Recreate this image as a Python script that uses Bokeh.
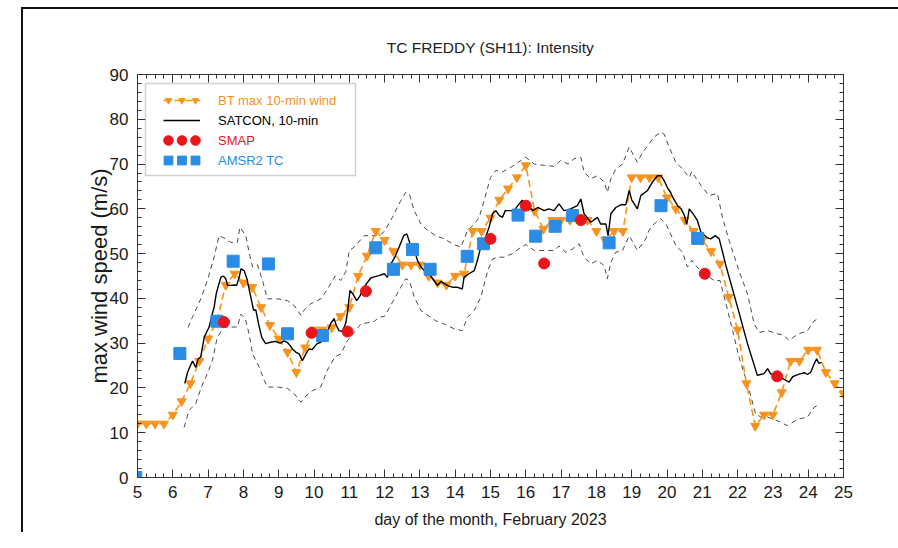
from bokeh.plotting import figure
from bokeh.models import (LinearAxis, SingleIntervalTicker, Range1d, Legend, LegendItem,
                          BoxAnnotation, ColumnDataSource)
from bokeh.embed import file_html
from bokeh.resources import INLINE

# ---------------- data ----------------
bt_day = [5.00, 5.25, 5.50, 5.75, 6.00, 6.25, 6.50, 6.75, 7.00, 7.25, 7.50, 7.75,
          8.00, 8.25, 8.50, 8.75, 9.00, 9.25, 9.50, 9.75, 10.00, 10.25, 10.50, 10.75,
          11.00, 11.25, 11.50, 11.75, 12.00, 12.25, 12.50, 12.75, 13.00, 13.25, 13.50, 13.75,
          14.00, 14.25, 14.50, 14.75, 15.00, 15.25, 15.50, 15.75, 16.00, 16.25, 16.50, 16.75,
          17.00, 17.25, 17.50, 17.75, 18.00, 18.25, 18.50, 18.75, 19.00, 19.25, 19.50, 19.75,
          20.00, 20.25, 20.50, 20.75, 21.00, 21.25, 21.50, 21.75, 22.00, 22.25, 22.50, 22.75,
          23.00, 23.25, 23.50, 23.75, 24.00, 24.25, 24.50, 24.75, 25.00]
bt_wind = [12, 12, 12, 12, 14, 17, 21, 26, 31, 35, 43, 45.5,
           43.5, 42.5, 38, 34, 31, 28, 23.5, 29, 33, 33, 33.5, 36,
           38, 45, 49.5, 55, 53, 50.5, 47.5, 47.5, 47.5, 45, 43.5, 43,
           45, 45.5, 55, 55, 58, 62, 64.5, 67, 69.7, 59.5, 55.5, 57.5,
           57.5, 57.5, 57.5, 57.5, 55, 53, 55, 55, 67, 67, 67, 67,
           62.5, 60, 57.5, 55, 53, 50.5, 47.7, 40.3, 33, 21, 11.5, 14,
           14, 19, 26, 26, 28.5, 28.5, 23.5, 21, 18.7]

satcon_day = [6.34, 6.42, 6.50, 6.56, 6.65, 6.72, 6.79, 6.89, 6.96, 7.03, 7.10, 7.17,
              7.23, 7.28, 7.36, 7.43, 7.50, 7.55, 7.65, 7.75, 7.81, 7.88, 7.93, 8.02,
              8.10, 8.19, 8.29, 8.35, 8.43, 8.52, 8.63, 8.77, 8.90, 9.05, 9.15, 9.24,
              9.32, 9.39, 9.48, 9.58, 9.67, 9.77, 9.86, 9.95, 10.09, 10.19, 10.29, 10.40,
              10.48, 10.57, 10.63, 10.71, 10.81, 10.90, 10.95, 11.02, 11.10, 11.21, 11.30, 11.42,
              11.51, 11.60, 11.70, 11.84, 11.99, 12.08, 12.18, 12.29, 12.41, 12.54, 12.63, 12.72,
              12.82, 12.93, 13.03, 13.12, 13.26, 13.40, 13.50, 13.60, 13.69, 13.80, 13.92, 14.05,
              14.20, 14.25, 14.39, 14.54, 14.63, 14.72, 14.86, 14.96, 15.06, 15.15, 15.25, 15.34,
              15.42, 15.58, 15.67, 15.80, 15.90, 16.05, 16.20, 16.34, 16.52, 16.65, 16.80, 16.94,
              17.08, 17.27, 17.46, 17.56, 17.65, 17.84, 18.03, 18.12, 18.27, 18.33, 18.41, 18.55,
              18.69, 18.83, 18.93, 19.00, 19.08, 19.16, 19.26, 19.35, 19.45, 19.59, 19.73, 19.83,
              19.92, 20.02, 20.10, 20.16, 20.30, 20.40, 20.49, 20.56, 20.63, 20.73, 20.86, 20.96,
              21.06, 21.15, 21.24, 21.37, 21.48, 21.67, 22.00, 22.28, 22.56, 22.65, 22.75, 22.85,
              22.93, 23.05, 23.17, 23.30, 23.46, 23.56, 23.65, 23.79, 23.90, 23.98, 24.07, 24.17,
              24.24, 24.30, 24.38]
satcon_wind = [21.0, 23.5, 25.0, 26.0, 24.6, 26.5, 26.9, 31.3, 32.5, 33.6, 36.0, 38.0,
               41.0, 42.5, 44.7, 45.0, 44.4, 42.9, 42.9, 43.0, 42.9, 44.7, 46.6, 46.2,
               44.4, 41.0, 37.3, 37.5, 34.3, 31.3, 29.9, 30.2, 30.4, 30.0, 30.5, 30.2,
               29.5, 28.7, 28.0, 27.6, 26.1, 27.6, 28.7, 28.6, 29.9, 30.2, 31.0, 33.0,
               34.5, 35.5, 34.0, 32.8, 32.6, 34.5, 37.0, 41.8, 41.0, 39.5, 40.5, 42.5,
               43.5, 44.5, 44.8, 45.1, 45.5, 44.7, 47.7, 49.2, 51.4, 54.0, 54.4, 52.2,
               51.4, 48.5, 47.0, 46.2, 45.5, 44.0, 42.9, 43.8, 43.3, 42.8, 42.5, 42.5,
               42.1, 44.7, 45.5, 46.2, 48.5, 51.4, 53.6, 55.9, 58.9, 59.6, 58.5, 58.1,
               59.6, 59.6, 59.6, 61.0, 61.9, 60.7, 59.6, 60.3, 59.6, 60.0, 59.6, 61.1,
               59.6, 60.0, 60.7, 62.2, 58.9, 57.0, 58.1, 56.6, 56.6, 54.0, 58.9, 60.3,
               60.9, 60.9, 64.1, 62.0, 61.0, 60.0, 63.0, 63.5, 64.1, 66.0, 67.4, 67.4,
               66.3, 64.6, 63.7, 62.6, 60.7, 60.0, 58.6, 56.5, 60.0, 59.0, 57.4, 54.8,
               54.1, 53.5, 53.3, 54.0, 53.3, 47.3, 38.0, 29.9, 22.8, 23.0, 23.2, 24.3,
               23.2, 22.8, 22.4, 22.0, 21.3, 22.5, 22.8, 23.2, 23.4, 23.0, 23.5, 25.4,
               26.5, 25.5, 25.7]

upper_day = [6.43, 6.55, 6.80, 6.98, 7.17, 7.31, 7.50, 7.64, 7.83, 7.90, 8.07, 8.15,
             8.26, 8.40, 8.54, 8.68, 8.97, 9.25, 9.44, 9.63, 9.73, 9.91, 10.19, 10.38,
             10.60, 10.76, 10.90, 11.00, 11.15, 11.42, 11.84, 12.00, 12.22, 12.46, 12.60, 12.70,
             12.84, 13.03, 13.17, 13.45, 13.69, 13.92, 14.16, 14.35, 14.54, 14.68, 14.87, 15.00,
             15.15, 15.33, 15.58, 15.86, 16.00, 16.24, 16.52, 16.80, 16.99, 17.20, 17.37, 17.56,
             17.65, 17.84, 18.03, 18.22, 18.31, 18.41, 18.55, 18.74, 18.93, 19.05, 19.16, 19.30,
             19.49, 19.63, 19.82, 19.92, 20.06, 20.25, 20.44, 20.63, 20.70, 20.85, 21.00, 21.19,
             21.43, 21.57, 21.76, 22.04, 22.28, 22.47, 22.61, 22.85, 23.12, 23.30, 23.46, 23.70,
             23.98, 24.17, 24.30]
upper_wind = [33.5, 35.7, 40.0, 44.0, 49.2, 54.0, 53.3, 52.5, 52.5, 55.9, 54.0, 50.7,
              47.0, 47.5, 44.0, 39.9, 39.9, 39.5, 38.4, 36.2, 37.5, 38.8, 39.9, 42.0,
              45.0, 44.0, 46.0, 50.7, 51.5, 54.0, 54.0, 55.0, 58.1, 61.9, 63.7, 63.3,
              59.6, 56.6, 55.5, 54.0, 53.3, 52.2, 51.4, 55.2, 56.6, 58.1, 63.3, 67.0,
              68.6, 68.2, 69.3, 70.8, 71.5, 70.0, 69.7, 69.5, 70.8, 70.0, 71.2, 71.5,
              68.2, 66.7, 67.4, 66.0, 63.7, 66.7, 68.9, 70.0, 73.8, 72.0, 70.4, 72.5,
              74.5, 76.0, 77.1, 76.7, 73.8, 70.4, 68.9, 67.0, 68.3, 66.5, 64.8, 63.0,
              63.4, 58.1, 52.9, 46.2, 41.0, 34.3, 32.4, 32.8, 32.1, 31.8, 30.6, 32.0,
              32.8, 35.0, 35.5]

lower_day = [6.32, 6.46, 6.65, 6.80, 6.98, 7.12, 7.26, 7.45, 7.64, 7.83, 7.93, 8.05,
             8.16, 8.26, 8.45, 8.59, 8.68, 8.97, 9.25, 9.44, 9.63, 9.77, 9.96, 10.19,
             10.38, 10.60, 10.76, 10.95, 11.10, 11.33, 11.70, 11.84, 12.00, 12.22, 12.41, 12.60,
             12.70, 12.84, 13.03, 13.17, 13.45, 13.69, 13.97, 14.20, 14.35, 14.54, 14.73, 14.92,
             15.06, 15.20, 15.38, 15.62, 15.86, 16.00, 16.24, 16.52, 16.80, 16.94, 17.13, 17.32,
             17.51, 17.65, 17.84, 18.03, 18.22, 18.31, 18.41, 18.55, 18.74, 18.93, 19.16, 19.40,
             19.49, 19.63, 19.82, 19.97, 20.10, 20.25, 20.44, 20.58, 20.70, 20.85, 21.05, 21.33,
             21.50, 21.67, 21.86, 22.04, 22.28, 22.51, 22.66, 22.85, 23.12, 23.41, 23.70, 23.98,
             24.17, 24.30]
lower_wind = [11.2, 15.0, 16.5, 20.0, 23.2, 26.1, 31.3, 33.6, 33.6, 33.6, 36.5, 35.5,
              32.1, 27.6, 24.6, 21.7, 20.2, 20.2, 19.9, 18.7, 16.8, 18.2, 19.4, 20.2,
              24.0, 27.0, 27.6, 30.6, 32.0, 34.3, 34.8, 35.8, 36.0, 39.1, 41.8, 44.4,
              44.0, 40.3, 37.3, 36.5, 35.0, 34.3, 33.2, 32.8, 35.8, 37.3, 40.3, 46.2,
              48.8, 49.2, 49.2, 50.0, 51.4, 52.0, 50.7, 50.7, 50.7, 51.7, 50.3, 51.0,
              52.2, 49.2, 47.7, 48.5, 47.3, 44.4, 48.0, 50.3, 50.7, 54.0, 50.7, 53.3,
              55.2, 56.6, 57.8, 56.6, 54.4, 51.8, 50.3, 47.0, 48.5, 47.0, 45.5, 44.0,
              44.0, 38.8, 32.8, 26.9, 20.9, 14.2, 13.5, 13.5, 12.7, 11.6, 13.0, 13.5,
              15.7, 16.2]

smap_day = [7.45, 9.93, 10.95, 11.47, 15.00, 16.00, 16.52, 17.56, 21.07, 23.12]
smap_wind = [34.7, 32.3, 32.6, 41.6, 53.3, 60.7, 47.8, 57.5, 45.5, 22.6]

amsr2_day = [4.95, 6.20, 7.25, 7.71, 8.71, 9.25, 10.24, 11.75, 12.25, 12.79, 13.29,
             14.34, 14.80, 15.78, 16.28, 16.83, 17.32, 18.36, 19.83, 20.87]
amsr2_wind = [0.0, 27.7, 34.9, 48.3, 47.7, 32.1, 31.7, 51.3, 46.5, 50.9, 46.5,
              49.4, 52.2, 58.6, 53.9, 56.1, 58.5, 52.4, 60.7, 53.4]

title_text = "TC FREDDY (SH11): Intensity"
x_label = "day of the month, February 2023"
y_label = "max wind speed (m/s)"
legend_labels = ["BT max 10-min wind", "SATCON, 10-min", "SMAP", "AMSR2 TC"]

# ---------------- styling ----------------
ORANGE = "#F7931E"
RED = "#E8161B"
BLUE = "#2B8CE6"
GRAY = "#4a4a4a"
FONT = "Liberation Sans"
AX = "#333333"

p = figure(width=898, height=532, output_backend="svg", toolbar_location=None,
           x_range=Range1d(5, 25), y_range=Range1d(0, 90),
           min_border_left=137, min_border_right=55, min_border_top=74, min_border_bottom=55,
           title=title_text)
# slide frame (top + left edge) painted as CSS background behind a transparent border area
p.border_fill_color = None
p.styles = {"background": ("linear-gradient(#111111, #111111) 21px 7px / 877px 2px no-repeat, "
                           "linear-gradient(#111111, #111111) 21px 7px / 2px 525px no-repeat, "
                           "#ffffff")}
p.background_fill_color = "white"
p.outline_line_color = None
p.xgrid.grid_line_color = None
p.ygrid.grid_line_color = None

p.title.text_font = FONT
p.title.text_font_size = "15.5px"
p.title.text_font_style = "normal"
p.title.text_color = "#222222"
p.title.align = "center"
p.title.standoff = 38


def style_axis(ax, labels=True):
    ax.axis_line_color = AX
    ax.major_tick_line_color = AX
    ax.minor_tick_line_color = AX
    ax.major_tick_in = 8
    ax.major_tick_out = 0
    ax.minor_tick_in = 4
    ax.minor_tick_out = 0
    if labels:
        ax.major_label_text_font = FONT
        ax.major_label_text_font_size = "17px"
        ax.major_label_text_color = "#1a1a1a"
    else:
        ax.major_label_text_color = None
        ax.major_label_text_font_size = "1px"
        ax.major_label_standoff = 0


xb = p.xaxis[0]
xb.ticker = SingleIntervalTicker(interval=1, num_minor_ticks=4)
style_axis(xb)
xb.major_label_standoff = 8
xb.axis_label = x_label
xb.axis_label_text_font = FONT
xb.axis_label_text_font_size = "16px"
xb.axis_label_text_font_style = "normal"
xb.axis_label_text_color = "#1a1a1a"
xb.axis_label_standoff = 10

yl = p.yaxis[0]
yl.ticker = SingleIntervalTicker(interval=10, num_minor_ticks=5)
style_axis(yl)
yl.major_label_standoff = 9
yl.axis_label = y_label
yl.axis_label_text_font = FONT
yl.axis_label_text_font_size = "22px"
yl.axis_label_text_font_style = "normal"
yl.axis_label_text_color = "#1a1a1a"
yl.axis_label_standoff = -5

xt = LinearAxis(ticker=SingleIntervalTicker(interval=1, num_minor_ticks=4))
style_axis(xt, labels=False)
p.add_layout(xt, "above")
yr = LinearAxis(ticker=SingleIntervalTicker(interval=10, num_minor_ticks=5))
style_axis(yr, labels=False)
p.add_layout(yr, "right")

# ---------------- glyphs ----------------
up = p.line(upper_day, upper_wind, line_color=GRAY, line_width=1, line_dash="5 4")
lo = p.line(lower_day, lower_wind, line_color=GRAY, line_width=1, line_dash="5 4")

bt_src = ColumnDataSource(dict(x=bt_day, y=bt_wind))
bt_line = p.line("x", "y", source=bt_src, line_color=ORANGE, line_width=1.6, line_dash="7 4")
bt_pts = p.scatter("x", "y", source=bt_src, marker="inverted_triangle", size=9,
                   fill_color=ORANGE, line_color=ORANGE)

sat = p.line(satcon_day, satcon_wind, line_color="black", line_width=1.4)

am = p.scatter(amsr2_day, amsr2_wind, marker="square", size=12,
               fill_color=BLUE, line_color=BLUE)
sm = p.scatter(smap_day, smap_wind, marker="circle", size=11,
               fill_color=RED, line_color=RED)

# ---------------- legend ----------------
legbox = BoxAnnotation(left=145, right=355, top=83, bottom=175,
                       left_units="canvas", right_units="canvas",
                       top_units="canvas", bottom_units="canvas",
                       fill_color="white", fill_alpha=1.0,
                       line_color="#666666", line_width=1.5)
p.add_layout(legbox)

frame_h = 403
# (label, renderers, text colour, marker renderer, glyph height)
rows = [(legend_labels[0], [bt_line, bt_pts], ORANGE, bt_pts, 16),
        (legend_labels[1], [sat], "black", None, 20),
        (legend_labels[2], [sm], RED, sm, 24),
        (legend_labels[3], [am], BLUE, am, 22)]
for i, (lab, rends, col, marker_r, gh) in enumerate(rows):
    center = 26 + 20 * i
    top = center - gh / 2
    vy = frame_h - top - gh
    leg = Legend(items=[LegendItem(label=lab, renderers=rends)],
                 location=(26, vy),
                 label_text_color=col, label_text_font=FONT, label_text_font_size="13px",
                 border_line_color=None, background_fill_alpha=0.0,
                 padding=0, margin=0, spacing=0,
                 glyph_width=37, glyph_height=gh, label_height=gh, label_standoff=18)
    p.add_layout(leg)
    if marker_r is not None:
        # IDL-style legend: three symbols per entry
        for cx in (31, 58):
            extra = Legend(items=[LegendItem(label="", renderers=[marker_r])],
                           location=(cx - gh / 2, vy),
                           border_line_color=None, background_fill_alpha=0.0,
                           padding=0, margin=0, spacing=0, label_standoff=0,
                           label_width=0, glyph_width=gh, glyph_height=gh, label_height=gh)
            p.add_layout(extra)

open("out.html", "w").write(file_html(p, INLINE))
